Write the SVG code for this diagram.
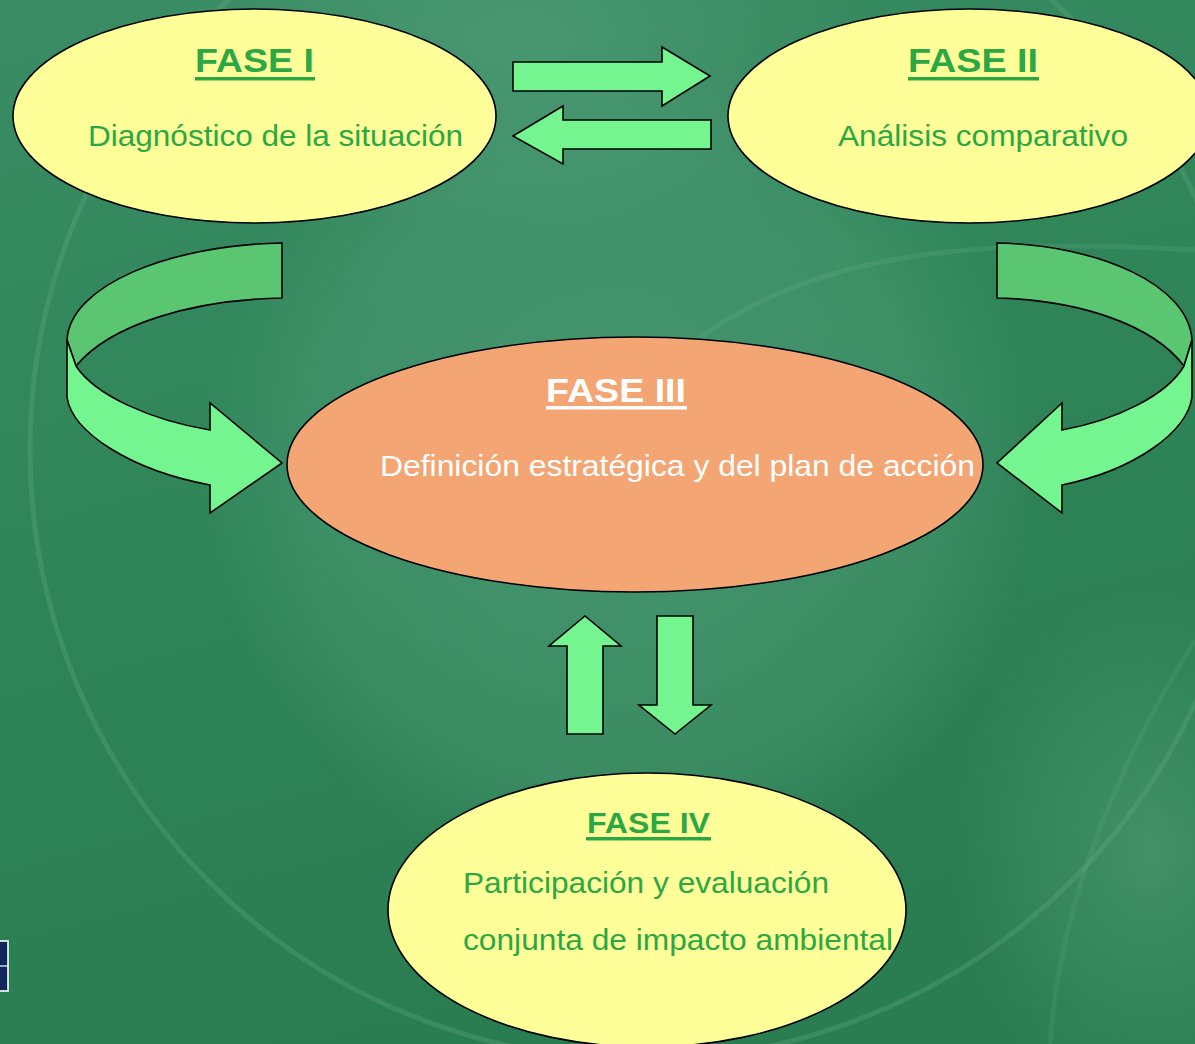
<svg xmlns="http://www.w3.org/2000/svg" width="1195" height="1044" viewBox="0 0 1195 1044">
<defs>
<linearGradient id="bg" x1="0" y1="0" x2="0.3" y2="1">
<stop offset="0" stop-color="#3a8c64"/>
<stop offset="0.5" stop-color="#2f8558"/>
<stop offset="1" stop-color="#2a7d50"/>
</linearGradient>
<radialGradient id="glow" cx="0.5" cy="0.5" r="0.5">
<stop offset="0" stop-color="#5aa584" stop-opacity="0.55"/>
<stop offset="0.75" stop-color="#55a07e" stop-opacity="0.35"/>
<stop offset="1" stop-color="#55a07e" stop-opacity="0"/>
</radialGradient>
<radialGradient id="glow2" cx="0.5" cy="0.5" r="0.5">
<stop offset="0" stop-color="#5fa886" stop-opacity="0.45"/>
<stop offset="1" stop-color="#5fa886" stop-opacity="0"/>
</radialGradient>
<style>
.node{stroke:#000;stroke-width:1.6}
.yel{fill:#ffff99}
.org{fill:#f3a674}
.arr{fill:#74f590;stroke:#000;stroke-width:1.6;stroke-linejoin:miter}
.dark{fill:#5bc672;stroke:#000;stroke-width:1.6}
.t{font-family:"Liberation Sans",Arial,sans-serif;font-size:30px;fill:#2ba844}
.h{font-family:"Liberation Sans",Arial,sans-serif;font-size:34px;font-weight:bold;fill:#2ba844}
.w{fill:#ffffff}
.ul{fill:#2ba844}
.ulw{fill:#ffffff}
.arc{fill:none;stroke:#6fb391;stroke-width:5}
</style>
</defs>
<g id="background">
<rect x="0" y="0" width="1195" height="1044" fill="url(#bg)"/>
<ellipse cx="620" cy="470" rx="420" ry="420" fill="url(#glow)"/>
<ellipse cx="520" cy="40" rx="360" ry="200" fill="url(#glow2)"/>
<ellipse cx="1150" cy="850" rx="200" ry="260" fill="url(#glow2)"/>
<circle class="arc" cx="640" cy="450" r="610" stroke-opacity="0.25"/>
<path class="arc" d="M690,345 C800,260 950,235 1195,250" stroke-opacity="0.2"/>
<path class="arc" d="M1195,640 C1120,760 1060,900 1050,1044" stroke-opacity="0.15"/>
</g>
<g id="connectors">
<path class="arr" d="M513,62 L662,62 L662,47 L710,76 L662,106 L662,91 L513,91 Z"/>
<path class="arr" d="M711,120 L563,120 L563,106 L513,136 L563,164 L563,149 L711,149 Z"/>
<path class="arr" d="M567,734 L567,646 L549,646 L585,616 L621,646 L603,646 L603,734 Z"/>
<path class="arr" d="M657,616 L693,616 L693,705 L711,705 L675,734 L639,705 L657,705 Z"/>
<g id="curve-left">
<path class="dark" d="M282,243 C170,245 70,285 67,340 L76,366 C110,325 190,300 282,298 Z"/>
<path class="arr" d="M67,340 L67,397 C72,432 130,470 210,485 L210,513 L282,463 L210,403 L210,430 C150,420 95,395 76,366 Z"/>
</g>
<g id="curve-right">
<path class="dark" d="M997,243 C1099,245 1189,285 1192,340 L1184,366 C1153,325 1080,300 997,298 Z"/>
<path class="arr" d="M1192,340 L1192,397 C1187,432 1135,470 1062,485 L1062,513 L997,463 L1062,403 L1062,430 C1117,420 1167,395 1184,366 Z"/>
</g>
</g>
<g id="fase1">
<ellipse class="node yel" cx="254.5" cy="116" rx="241.5" ry="107"/>
<text class="h" x="195" y="72" textLength="119" lengthAdjust="spacingAndGlyphs">FASE I</text>
<rect class="ul" x="195" y="77" width="120" height="3.5"/>
<text class="t" x="88" y="146" textLength="375" lengthAdjust="spacingAndGlyphs">Diagnóstico de la situación</text>
</g>
<g id="fase2">
<ellipse class="node yel" cx="969" cy="116" rx="241" ry="107"/>
<text class="h" x="908" y="72" textLength="130" lengthAdjust="spacingAndGlyphs">FASE II</text>
<rect class="ul" x="908" y="77" width="131" height="3.5"/>
<text class="t" x="838" y="146" textLength="290" lengthAdjust="spacingAndGlyphs">Análisis comparativo</text>
</g>
<g id="fase3">
<ellipse class="node org" cx="635" cy="464.5" rx="348" ry="127.5"/>
<text class="h w" x="546" y="402" textLength="140" lengthAdjust="spacingAndGlyphs">FASE III</text>
<rect class="ulw" x="546" y="406" width="141" height="3.5"/>
<text class="t w" x="380" y="476" textLength="595" lengthAdjust="spacingAndGlyphs">Definición estratégica y del plan de acción</text>
</g>
<g id="fase4">
<ellipse class="node yel" cx="647" cy="910" rx="259" ry="137"/>
<text class="h" x="587" y="833" style="font-size:30px" textLength="123" lengthAdjust="spacingAndGlyphs">FASE IV</text>
<rect class="ul" x="586" y="837" width="125" height="3.5"/>
<text class="t" x="463" y="893" textLength="366" lengthAdjust="spacingAndGlyphs">Participación y evaluación</text>
<text class="t" x="463" y="950" textLength="430" lengthAdjust="spacingAndGlyphs">conjunta de impacto ambiental</text>
</g>
<g id="badge">
<rect x="-2" y="941" width="10" height="50" fill="#10285a" stroke="#ffffff" stroke-width="1.6"/>
<line x1="0" y1="966" x2="8" y2="966" stroke="#ffffff" stroke-width="1.2"/>
</g>
</svg>
